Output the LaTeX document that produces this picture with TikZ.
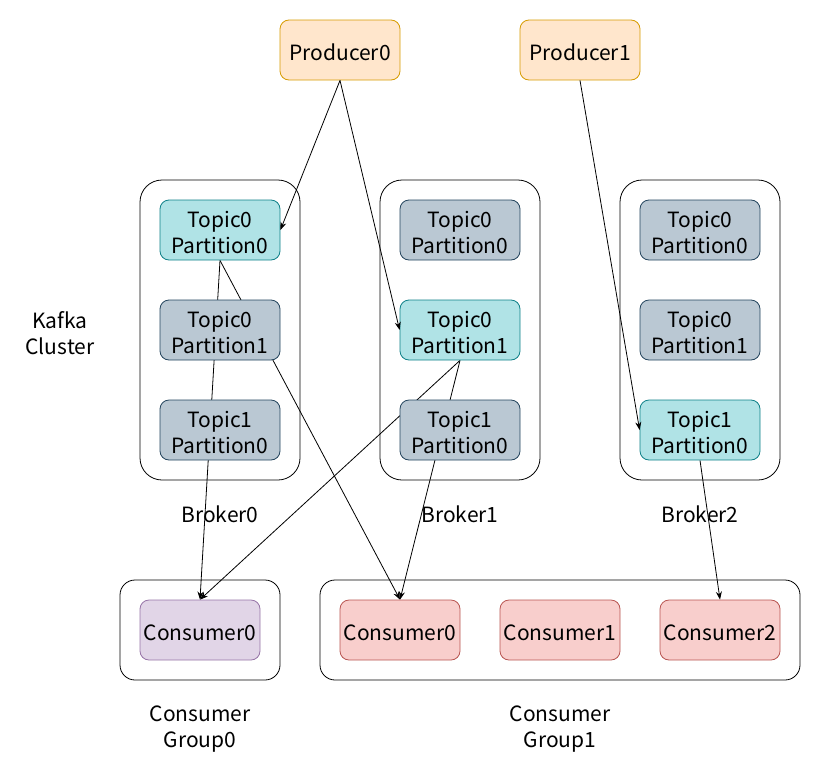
\documentclass[tikz,border=0pt]{standalone}
\usepackage{fontspec}
\setmainfont{Noto Sans CJK SC}
\usetikzlibrary{arrows.meta}
\pgfdeclarelayer{bg}
\pgfsetlayers{bg,main}
\definecolor{prodfill}{HTML}{FFE6CC}
\definecolor{proddraw}{HTML}{D79B00}
\definecolor{actfill}{HTML}{B0E3E6}
\definecolor{actdraw}{HTML}{0E8088}
\definecolor{grayfill}{HTML}{BAC8D3}
\definecolor{graydraw}{HTML}{23445D}
\definecolor{purfill}{HTML}{E1D5E7}
\definecolor{purdraw}{HTML}{9673A6}
\definecolor{redfill}{HTML}{F8CECC}
\definecolor{reddraw}{HTML}{B85450}
\tikzset{
  x=1pt,y=-1pt,
  lbl/.style={font=\fontsize{21}{26}\selectfont, align=center, inner sep=0pt},
  base/.style={rounded corners=9pt, minimum width=120pt, minimum height=60pt, inner sep=0pt, line width=0.8pt,
     label={[lbl,yshift=-2.5pt]center:#1}},
  prod/.style={base={#1}, fill=prodfill, draw=proddraw},
  act/.style={base={#1}, fill=actfill, draw=actdraw},
  idle/.style={base={#1}, fill=grayfill, draw=graydraw},
  cons0/.style={base={#1}, fill=purfill, draw=purdraw},
  cons1/.style={base={#1}, fill=redfill, draw=reddraw},
  cont/.style={draw=black, line width=0.8pt, rounded corners=22pt, inner sep=0pt},
  grp/.style={draw=black, line width=0.8pt, rounded corners=15pt, inner sep=0pt},
  edge/.style={draw=black, line width=0.8pt, -{Stealth[length=8pt,width=6pt]}}
}
\begin{document}
\begin{tikzpicture}
\useasboundingbox (0,0) rectangle (821,771);
% containers
\node[cont, minimum width=160pt, minimum height=300pt] (b0) at (220,330) {};
\node[cont, minimum width=160pt, minimum height=300pt] (b1) at (460,330) {};
\node[cont, minimum width=160pt, minimum height=300pt] (b2) at (700,330) {};
\node[grp, minimum width=160pt, minimum height=100pt] (g0) at (200,630) {};
\node[grp, minimum width=480pt, minimum height=100pt] (g1) at (560,630) {};
% producers
\node[prod={Producer0}] (p0) at (340,50) {};
\node[prod={Producer1}] (p1) at (580,50) {};
% partitions
\node[act={Topic0\\Partition0}]  (b0t0p0) at (220,230) {};
\node[idle={Topic0\\Partition1}] (b0t0p1) at (220,330) {};
\node[idle={Topic1\\Partition0}] (b0t1p0) at (220,430) {};
\node[idle={Topic0\\Partition0}] (b1t0p0) at (460,230) {};
\node[act={Topic0\\Partition1}]  (b1t0p1) at (460,330) {};
\node[idle={Topic1\\Partition0}] (b1t1p0) at (460,430) {};
\node[idle={Topic0\\Partition0}] (b2t0p0) at (700,230) {};
\node[idle={Topic0\\Partition1}] (b2t0p1) at (700,330) {};
\node[act={Topic1\\Partition0}]  (b2t1p0) at (700,430) {};
% consumers
\node[cons0={Consumer0}] (c00) at (200,630) {};
\node[cons1={Consumer0}] (c10) at (400,630) {};
\node[cons1={Consumer1}] (c11) at (560,630) {};
\node[cons1={Consumer2}] (c12) at (720,630) {};
% labels
\node[lbl] (kc) at (60,333) {Kafka\\Cluster};
\node[lbl] (l0) at (220,514) {Broker0};
\node[lbl] (l1) at (460,514) {Broker1};
\node[lbl] (l2) at (700,514) {Broker2};
\node[lbl] (lg0) at (200,729) {Consumer\\Group0};
\node[lbl] (lg1) at (560,729) {Consumer\\Group1};
% edges
\draw[edge] (p0.south) -- (b0t0p0.east);
\draw[edge] (p0.south) -- (b1t0p1.west);
\draw[edge] (p1.south) -- (b2t1p0.west);
\begin{pgfonlayer}{bg}
\draw[edge] (b0t0p0.south) -- (c00.north);
\draw[edge] (b0t0p0.south) -- (c10.north);
\draw[edge] (b1t0p1.south) -- (c00.north);
\draw[edge] (b1t0p1.south) -- (c10.north);
\draw[edge] (b2t1p0.south) -- (c12.north);
\end{pgfonlayer}
\end{tikzpicture}
\end{document}
